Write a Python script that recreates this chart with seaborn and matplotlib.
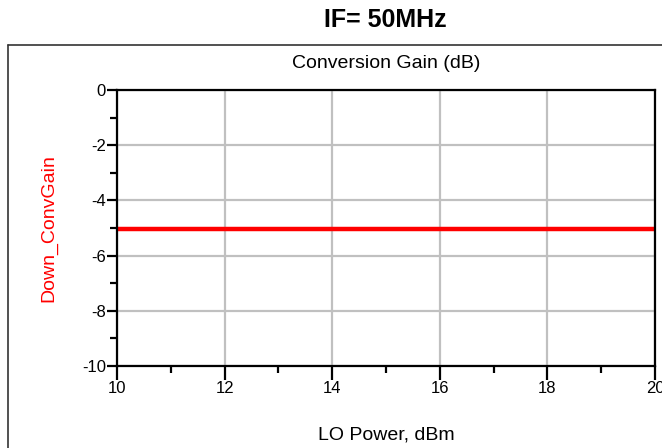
import numpy as np
import pandas as pd
import matplotlib
matplotlib.use("Agg")
import matplotlib.pyplot as plt
from matplotlib.lines import Line2D
from matplotlib.ticker import MultipleLocator
import seaborn as sns

# LO power sweep (dBm) and measured down-conversion gain (dB)
lo_power = [10, 11, 12, 13, 14, 15, 16, 17, 18, 19, 20]
conv_gain = [-5.05, -5.05, -5.05, -5.05, -5.05, -5.05, -5.05, -5.05, -5.05, -5.05, -5.05]
x_ticks = [10, 12, 14, 16, 18, 20]
y_ticks = [0, -2, -4, -6, -8, -10]

df = pd.DataFrame({"lo": lo_power, "gain": conv_gain})

sns.set_style("white")
plt.rcParams["font.family"] = ["Liberation Sans", "DejaVu Sans"]
plt.rcParams["axes.unicode_minus"] = False
plt.rcParams["text.color"] = "black"
plt.rcParams["axes.labelcolor"] = "black"

fig = plt.figure(figsize=(6.62, 4.48), dpi=100)
ax = fig.add_axes([117 / 662, 1 - 366 / 448, (655 - 117) / 662, (366 - 90) / 448])

sns.lineplot(data=df, x="lo", y="gain", color="#ff0000", linewidth=3.2, ax=ax)

ax.set_xlim(10, 20)
ax.set_ylim(-10, 0)
ax.set_xticks(x_ticks)
ax.set_yticks(y_ticks)
ax.xaxis.set_minor_locator(MultipleLocator(1))
ax.yaxis.set_minor_locator(MultipleLocator(1))
ax.grid(True, which="major", color="#c0c0c0", linewidth=1.6)
ax.set_axisbelow(True)

for s in ax.spines.values():
    s.set_color("black")
    s.set_linewidth(1.6)

ax.tick_params(axis="both", which="both", bottom=True, left=True, top=False, right=False)
ax.tick_params(axis="both", which="major", direction="out", length=7, width=1.6,
               colors="black", labelsize=12, pad=1)
ax.tick_params(axis="both", which="minor", direction="out", length=5, width=1.6,
               colors="black")
ax.tick_params(axis="x", which="major", length=10)

ax.set_xlabel("LO Power, dBm", fontsize=14, labelpad=22)
ax.set_ylabel("Down_ConvGain", fontsize=14, color="#ff0000", labelpad=18)
ax.set_title("Conversion Gain (dB)", fontsize=14, pad=16)

fig.text(385 / 662, 1 - 20 / 448, "IF= 50MHz", fontsize=18, fontweight="bold",
         ha="center", va="center", color="black")

# outer panel frame (left and top edges visible)
fig.add_artist(Line2D([8 / 662, 8 / 662], [0, 1 - 45 / 448], color="#333333",
                      linewidth=1.2, transform=fig.transFigure))
fig.add_artist(Line2D([8 / 662, 1], [1 - 45 / 448, 1 - 45 / 448], color="#333333",
                      linewidth=1.2, transform=fig.transFigure))

fig.savefig("out.png", dpi=100)
